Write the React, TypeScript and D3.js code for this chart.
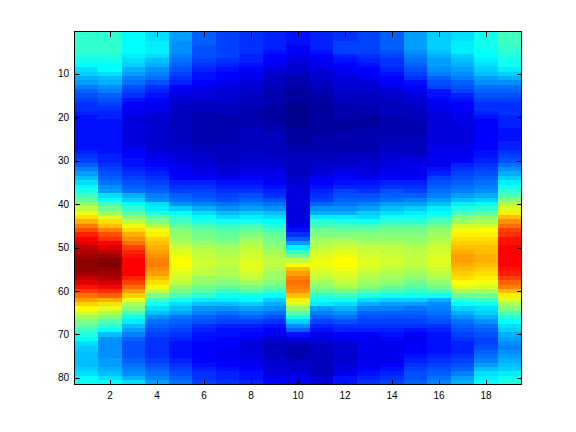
import React from "react";
import * as d3 from "d3";

const W = 576, H = 432;
const xTicks = [2, 4, 6, 8, 10, 12, 14, 16, 18];
const yTicks = [10, 20, 30, 40, 50, 60, 70, 80];

// Colormap indices (0-63), one array per image column, rows 1..81
const col01 = [26,26,26,26,26,25,24,23,21,20, 18,17,15,13,12,11,10,10,9,8, 8,8,8,8,8,8,8,9,10,11, 13,15,17,19,21,23,25,27,29,32, 35,38,41,44,47,50,53,55,57,59, 60,61,62,62,62,61,59,57,54,51, 48,45,42,39,36,33,31,29,27,25, 23,21,20,19,19,19,19,20,21,23,24];
const col02 = [26,26,26,26,26,25,24,23,23,21, 19,18,16,15,13,12,11,10,9,9, 8,8,8,8,8,8,8,8,9,9, 10,11,12,13,14,16,17,21,23,27, 30,33,37,41,43,47,50,52,55,57, 59,61,63,63,62,61,60,58,55,52, 49,44,41,37,34,31,28,26,23,19, 16,16,16,16,16,17,17,18,19,21,23];
const col03 = [23,23,23,23,23,22,21,20,18,17, 15,14,12,11,10,8,7,6,6,5, 5,5,5,5,5,5,6,7,7,8, 8,9,10,11,12,13,14,18,20,23, 26,29,32,35,38,41,44,46,48,51, 53,54,55,55,55,55,53,51,48,45, 42,38,34,31,27,24,22,19,17,15, 13,12,12,12,12,13,14,15,16,18,21];
const col04 = [21,21,22,22,22,21,19,18,16,15, 14,12,10,9,8,7,6,6,5,4, 4,4,4,4,4,4,4,5,6,6, 7,8,9,10,11,12,13,15,16,21, 22,25,29,31,34,38,40,42,43,44, 45,46,47,47,46,45,43,41,38,35, 31,27,24,21,19,16,14,13,12,11, 10,10,10,10,10,11,12,13,14,15,17];
const col05 = [17,17,16,16,16,15,14,13,12,11, 10,9,7,6,5,4,4,3,3,3, 3,3,3,3,3,3,4,4,5,5, 6,6,7,7,9,10,11,13,14,16, 20,23,26,27,29,31,32,33,34,36, 37,38,39,39,38,37,36,35,32,30, 28,24,21,19,17,14,13,12,11,10, 9,8,8,8,8,9,10,11,12,13,14];
const col06 = [13,13,13,12,12,12,11,10,9,8, 8,7,6,5,5,4,3,3,2,2, 2,2,2,2,2,2,3,3,4,4, 5,5,6,7,9,10,11,12,13,15, 18,21,23,25,27,29,30,31,33,34, 35,35,36,36,35,35,33,32,30,28, 26,22,19,16,15,13,12,10,9,8, 8,7,7,7,7,7,8,9,10,10,11];
const col07 = [11,11,11,11,11,11,10,9,8,7, 7,6,5,5,4,4,3,3,3,2, 2,2,2,2,2,2,3,3,3,3, 4,4,5,6,8,9,10,11,12,14, 16,19,21,24,26,28,29,30,32,33, 34,34,35,35,34,34,33,31,29,26, 24,22,19,16,14,12,11,9,8,8, 7,7,7,6,6,7,7,8,9,9,10];
const col08 = [10,10,10,10,10,9,9,8,7,6, 6,5,4,4,3,3,3,2,2,2, 2,2,3,3,3,3,3,3,4,4, 5,5,6,7,8,9,10,12,13,15, 17,20,22,24,27,29,31,33,34,35, 36,36,37,37,37,36,35,33,30,28, 24,23,20,17,15,13,11,9,8,7, 6,5,5,5,5,6,6,7,8,8,9];
const col09 = [9,9,9,9,8,7,7,6,5,4, 3,3,3,2,2,2,2,1,1,1, 1,2,2,3,3,3,3,3,3,4, 4,5,6,6,7,8,9,10,12,14, 16,19,21,23,25,27,29,30,31,32, 33,34,35,35,34,33,33,31,29,26, 23,20,18,16,14,12,10,8,7,6, 4,3,3,3,3,4,4,4,5,6,7];
const col10 = [8,8,8,7,7,6,5,4,4,3, 2,2,2,1,1,1,0,0,0,0, 0,0,1,1,1,1,2,2,3,3, 3,3,3,4,4,5,5,5,5,5, 5,5,5,5,6,8,10,13,17,22, 26,30,35,39,43,45,47,48,47,46, 43,40,37,32,28,24,20,16,13,8, 5,3,2,2,2,3,4,4,5,6,6];
const col11 = [9,9,9,9,8,7,6,6,5,4, 4,3,3,2,2,1,1,1,1,1, 1,1,1,1,2,2,2,2,3,3, 4,4,5,6,7,8,9,10,11,13, 16,18,22,26,27,30,31,33,34,35, 36,37,38,38,37,36,35,33,31,29, 26,24,22,17,15,13,11,9,8,6, 5,4,3,3,3,3,3,3,3,4,5];
const col12 = [10,10,11,11,11,9,8,7,6,6, 5,5,4,4,3,3,2,2,2,2, 1,1,1,2,2,2,2,3,3,3, 4,5,6,7,8,9,11,12,13,14, 16,18,22,25,27,29,31,33,35,36, 37,38,39,39,38,37,36,35,33,30, 27,24,21,18,16,14,12,10,9,7, 6,5,4,4,4,4,5,5,6,8,8];
const col13 = [11,11,11,11,11,10,9,8,7,7, 6,5,4,4,3,3,3,2,2,1, 1,1,2,2,2,2,2,3,3,4, 4,5,5,6,8,9,10,12,13,15, 17,20,21,24,27,29,31,32,34,35, 36,36,37,37,36,35,34,33,31,28, 25,21,18,15,13,12,11,10,9,7, 6,6,6,6,6,6,6,7,8,9,10];
const col14 = [13,13,13,13,12,11,10,10,9,8, 7,7,6,4,4,3,3,3,3,2, 2,2,2,2,3,3,3,4,4,5, 5,6,6,7,9,10,12,13,14,17, 19,21,24,26,28,30,31,32,34,35, 35,36,36,36,35,34,33,32,29,27, 24,20,17,15,13,12,11,10,9,8, 7,6,6,6,6,6,7,8,9,10,11];
const col15 = [17,17,17,17,16,15,14,13,12,11, 10,8,7,6,5,4,4,3,3,3, 2,2,2,2,3,3,3,3,4,5, 6,6,6,7,9,10,11,13,15,17, 20,22,24,26,28,30,31,32,33,34, 35,35,35,35,34,33,32,30,28,26, 24,20,17,14,13,12,11,10,8,7, 6,6,7,7,8,9,10,11,12,12,13];
const col16 = [20,20,20,20,19,18,17,17,16,15, 13,12,11,8,8,7,6,6,5,5, 5,5,5,5,5,5,6,6,6,6, 6,8,9,11,12,13,14,15,17,19, 22,23,26,28,30,32,33,34,35,36, 36,37,37,37,36,35,34,32,30,27, 24,18,16,15,14,13,12,10,9,8, 8,8,8,8,9,10,11,12,13,14,15];
const col17 = [21,21,22,22,22,20,19,18,17,16, 15,13,12,11,9,8,7,7,6,6, 5,5,5,5,5,5,6,6,6,7, 9,10,11,12,13,14,15,17,19,22, 25,28,31,33,36,38,40,41,42,43, 44,45,45,44,43,42,41,39,37,33, 30,26,23,20,18,16,14,13,12,11, 10,9,9,9,10,11,12,13,15,17,18];
const col18 = [24,24,24,24,23,23,22,21,20,19, 17,16,14,13,12,11,10,10,9,8, 7,7,7,7,7,7,7,8,8,9, 10,11,12,13,14,15,16,18,20,23, 26,29,32,34,36,39,40,41,42,43, 43,44,44,43,42,41,40,38,36,33, 30,27,24,21,20,18,16,14,13,12, 11,11,12,13,14,15,17,19,21,22,23];
const col19 = [27,27,27,26,26,25,24,24,22,20, 18,16,14,13,12,11,10,10,10,9, 9,9,8,8,8,9,9,10,11,12, 14,16,18,20,22,24,26,28,31,34, 37,40,43,46,48,51,52,54,54,55, 55,55,55,55,54,53,51,49,47,43, 40,37,34,31,28,25,23,21,20,18, 17,16,15,16,17,18,19,20,22,24,25];
const columns = [col01,col02,col03,col04,col05,col06,col07,col08,col09,col10,col11,col12,col13,col14,col15,col16,col17,col18,col19];

const left = 74.88, right = 521.28, top = 32.4, bottom = 384.48;
const x = d3.scaleLinear().domain([0.5, 19.5]).range([left, right]);
const y = d3.scaleLinear().domain([0.5, 81.5]).range([top, bottom]);
const jet = d3.scaleLinear<string>()
  .domain([0, 7, 23, 39, 55, 63])
  .range(["#00008f", "#0000ff", "#00ffff", "#ffff00", "#ff0000", "#800000"])
  .clamp(true);

const tickLen = 4.5;
const font = "'Liberation Sans', Arial, sans-serif";

export default function App() {
  const X0 = Math.round(left), X1 = Math.round(right), Y0 = Math.round(top), Y1 = Math.round(bottom);
  return (
    <svg width={W} height={H} viewBox={`0 0 ${W} ${H}`}
      style={{ position: "absolute", left: 0, top: 0, background: "#fff" }}>
      <g shapeRendering="crispEdges">
        {columns.map((vals, c) =>
          vals.map((v, r) => {
            const x0 = Math.round(x(c + 0.5)), x1 = Math.round(x(c + 1.5));
            const y0 = Math.round(y(r + 0.5)), y1 = Math.round(y(r + 1.5));
            return <rect key={`${c}-${r}`} x={x0} y={y0} width={x1 - x0} height={y1 - y0} fill={jet(v)} />;
          })
        )}
      </g>
      <g stroke="#000" strokeWidth={1} shapeRendering="crispEdges" fill="none">
        <rect x={X0 - 0.5} y={Y0 - 0.5} width={X1 - X0 + 1} height={Y1 - Y0 + 1} />
        {xTicks.map(t => {
          const px = Math.round(x(t)) + 0.5;
          return (
            <g key={t}>
              <line x1={px} x2={px} y1={Y0} y2={Y0 + tickLen} />
              <line x1={px} x2={px} y1={Y1} y2={Y1 - tickLen} />
            </g>
          );
        })}
        {yTicks.map(t => {
          const py = Math.round(y(t)) + 0.5;
          return (
            <g key={t}>
              <line x1={X0} x2={X0 + tickLen} y1={py} y2={py} />
              <line x1={X1} x2={X1 - tickLen} y1={py} y2={py} />
            </g>
          );
        })}
      </g>
      <g fontFamily={font} fontSize={10} fill="#000">
        {xTicks.map(t => (
          <text key={t} x={x(t)} y={Y1 + 15} textAnchor="middle">{t}</text>
        ))}
        {yTicks.map(t => (
          <text key={t} x={X0 - 6} y={y(t) + 3.5} textAnchor="end">{t}</text>
        ))}
      </g>
    </svg>
  );
}
